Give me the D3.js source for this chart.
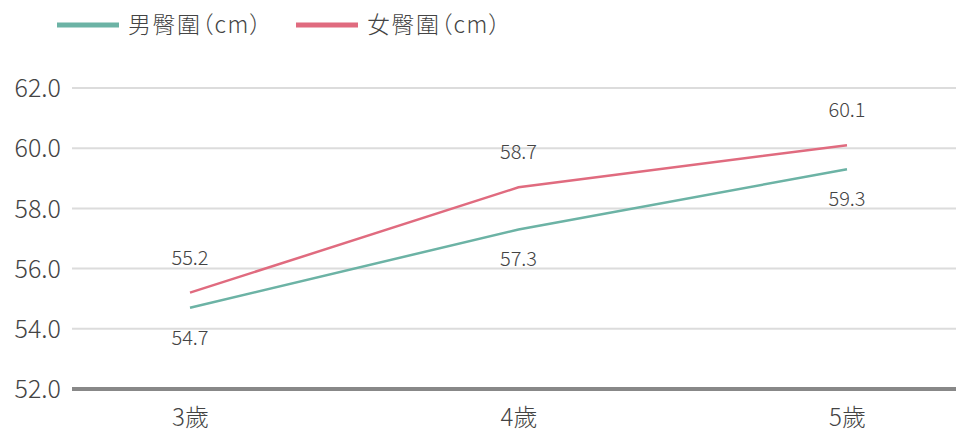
<!DOCTYPE html>
<html>
<head>
<meta charset="utf-8">
<script src="https://cdn.jsdelivr.net/npm/d3@7"></script>
<style>
  html, body { margin: 0; padding: 0; background: #fff; }
  svg { display: block; font-family: "Noto Sans CJK TC", "Noto Sans", sans-serif; font-weight: 300; }
  .legend-text { font-feature-settings: "palt"; letter-spacing: 1.5px; }
</style>
</head>
<body>
<svg id="chart" width="956" height="432"></svg>
<script>
// Hip circumference by age (cm)
const categories = ["3歲", "4歲", "5歲"];
const seriesNames = ["男臀圍（cm）", "女臀圍（cm）"];
const maleValues = [54.7, 57.3, 59.3];
const femaleValues = [55.2, 58.7, 60.1];
const yTicks = [52, 54, 56, 58, 60, 62];

const colors = { male: "#6cb3a5", female: "#e06b7f" };
const textColor = "#444";

const svg = d3.select("#chart");
const plot = { left: 72, right: 956, top: 88, bottom: 389 };

const x = d3.scalePoint().domain(categories).range([190, 847]);
const y = d3.scaleLinear().domain([52, 62]).range([plot.bottom, plot.top]);

// Horizontal gridlines
svg.append("g")
  .selectAll("line")
  .data(yTicks.filter(d => d !== 52))
  .join("line")
  .attr("x1", plot.left).attr("x2", plot.right)
  .attr("y1", d => y(d)).attr("y2", d => y(d))
  .attr("stroke", "#dcdcdc").attr("stroke-width", 2);

// Baseline
svg.append("line")
  .attr("x1", plot.left).attr("x2", plot.right)
  .attr("y1", y(52)).attr("y2", y(52))
  .attr("stroke", "#888").attr("stroke-width", 4);

// Y axis labels
const yAxis = d3.axisLeft(y).tickValues(yTicks).tickFormat(d3.format(".1f")).tickSize(0).tickPadding(0);
const yg = svg.append("g").attr("transform", "translate(61,0)").call(yAxis);
yg.select(".domain").remove();
yg.selectAll("text")
  .attr("font-size", 25).attr("fill", textColor)
  .attr("font-family", "'Noto Sans CJK TC', sans-serif")
  .attr("font-weight", 300)
  .attr("dy", "0.35em");

// X axis labels
const xAxis = d3.axisBottom(x).tickSize(0).tickPadding(0);
const xg = svg.append("g").attr("transform", `translate(0,${plot.bottom})`).call(xAxis);
xg.select(".domain").remove();
xg.selectAll("text")
  .attr("font-size", 24).attr("fill", textColor)
  .attr("font-family", "'Noto Sans CJK TC', sans-serif")
  .attr("font-weight", 300)
  .attr("y", 29).attr("dy", "0.35em");

// Lines and value labels
const line = d3.line().x((d, i) => x(categories[i])).y(d => y(d));
const series = [
  { key: "male", values: maleValues, offset: 30 },
  { key: "female", values: femaleValues, offset: -35 }
];
series.forEach(s => {
  svg.append("path")
    .datum(s.values)
    .attr("d", line)
    .attr("fill", "none")
    .attr("stroke", colors[s.key])
    .attr("stroke-width", 2.5);
  svg.append("g")
    .selectAll("text")
    .data(s.values)
    .join("text")
    .attr("x", (d, i) => x(categories[i]))
    .attr("y", d => y(d) + s.offset)
    .attr("dy", "0.35em")
    .attr("text-anchor", "middle")
    .attr("font-size", 20)
    .attr("fill", textColor)
    .text(d => d3.format(".1f")(d));
});

// Legend
const legend = [
  { name: seriesNames[0], color: colors.male, x: 57 },
  { name: seriesNames[1], color: colors.female, x: 296 }
];
const lg = svg.append("g");
legend.forEach(l => {
  lg.append("line")
    .attr("x1", l.x).attr("x2", l.x + 62)
    .attr("y1", 25).attr("y2", 25)
    .attr("stroke", l.color).attr("stroke-width", 5);
  lg.append("text")
    .attr("class", "legend-text")
    .attr("x", l.x + 71).attr("y", 25)
    .attr("dy", "0.35em")
    .attr("font-size", 23)
    .attr("fill", textColor)
    .text(l.name);
});
</script>
</body>
</html>
